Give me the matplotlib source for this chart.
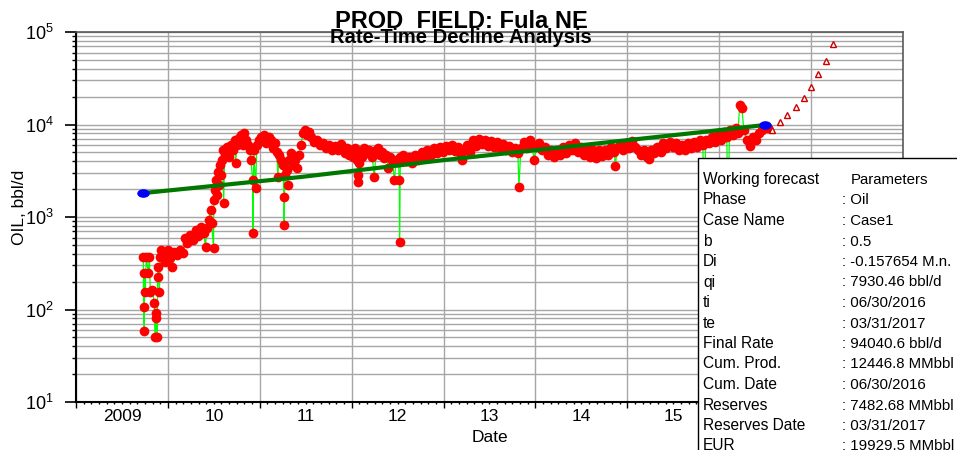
import numpy as np
import matplotlib
matplotlib.use("Agg")
import matplotlib.pyplot as plt
from matplotlib.patches import Rectangle
from matplotlib.path import Path
from matplotlib.transforms import Affine2D, blended_transform_factory
from matplotlib.ticker import FixedLocator, LogLocator, NullFormatter

plt.rcParams['font.family'] = ['Liberation Sans', 'DejaVu Sans']
plt.rcParams['mathtext.fontset'] = 'custom'
plt.rcParams['mathtext.rm'] = 'Liberation Sans'
plt.rcParams['mathtext.it'] = 'Liberation Sans:italic'
plt.rcParams['mathtext.bf'] = 'Liberation Sans:bold'

# production history: time in decimal years, oil rate in bbl/d
prod_t = [
    2009.732, 2009.735, 2009.743, 2009.745, 2009.754, 2009.765, 2009.787, 2009.798, 2009.809, 2009.831,
    2009.852, 2009.863, 2009.866, 2009.874, 2009.885, 2009.888, 2009.896, 2009.907, 2009.918, 2009.929,
    2009.951, 2009.973, 2010.005, 2010.027, 2010.049, 2010.071, 2010.104, 2010.137, 2010.169, 2010.191,
    2010.213, 2010.246, 2010.268, 2010.301, 2010.333, 2010.355, 2010.388, 2010.410, 2010.421, 2010.443,
    2010.464, 2010.475, 2010.497, 2010.500, 2010.508, 2010.519, 2010.530, 2010.541, 2010.552, 2010.563,
    2010.574, 2010.585, 2010.596, 2010.607, 2010.618, 2010.639, 2010.661, 2010.683, 2010.705, 2010.727,
    2010.738, 2010.749, 2010.770, 2010.792, 2010.814, 2010.825, 2010.847, 2010.869, 2010.891, 2010.902,
    2010.923, 2010.926, 2010.934, 2010.956, 2010.967, 2010.989, 2011.011, 2011.044, 2011.066, 2011.098,
    2011.120, 2011.142, 2011.164, 2011.186, 2011.197, 2011.208, 2011.230, 2011.251, 2011.262, 2011.265,
    2011.273, 2011.295, 2011.306, 2011.317, 2011.339, 2011.361, 2011.383, 2011.404, 2011.426, 2011.448,
    2011.470, 2011.492, 2011.514, 2011.536, 2011.557, 2011.590, 2011.623, 2011.656, 2011.689, 2011.721,
    2011.754, 2011.787, 2011.820, 2011.852, 2011.885, 2011.907, 2011.929, 2011.951, 2011.973, 2011.995,
    2012.016, 2012.038, 2012.060, 2012.071, 2012.073, 2012.075, 2012.093, 2012.115, 2012.137, 2012.158,
    2012.191, 2012.224, 2012.246, 2012.268, 2012.290, 2012.311, 2012.333, 2012.355, 2012.377, 2012.399,
    2012.421, 2012.443, 2012.464, 2012.486, 2012.508, 2012.519, 2012.521, 2012.530, 2012.563, 2012.596,
    2012.628, 2012.661, 2012.694, 2012.727, 2012.760, 2012.792, 2012.825, 2012.858, 2012.891, 2012.924,
    2012.956, 2012.989, 2013.022, 2013.055, 2013.087, 2013.120, 2013.153, 2013.186, 2013.197, 2013.219,
    2013.251, 2013.284, 2013.317, 2013.350, 2013.383, 2013.415, 2013.448, 2013.481, 2013.514, 2013.546,
    2013.579, 2013.612, 2013.645, 2013.678, 2013.710, 2013.743, 2013.776, 2013.809, 2013.820, 2013.842,
    2013.874, 2013.907, 2013.940, 2013.962, 2013.984, 2014.005, 2014.038, 2014.071, 2014.104, 2014.137,
    2014.169, 2014.202, 2014.235, 2014.268, 2014.301, 2014.333, 2014.366, 2014.399, 2014.432, 2014.464,
    2014.497, 2014.530, 2014.563, 2014.596, 2014.628, 2014.661, 2014.694, 2014.727, 2014.760, 2014.792,
    2014.825, 2014.858, 2014.869, 2014.891, 2014.924, 2014.956, 2014.989, 2015.022, 2015.055, 2015.087,
    2015.120, 2015.153, 2015.186, 2015.219, 2015.240, 2015.262, 2015.295, 2015.328, 2015.361, 2015.393,
    2015.426, 2015.459, 2015.492, 2015.525, 2015.557, 2015.590, 2015.623, 2015.656, 2015.689, 2015.721,
    2015.754, 2015.787, 2015.820, 2015.842, 2015.852, 2015.885, 2015.918, 2015.951, 2015.984, 2016.016,
    2016.049, 2016.082, 2016.093, 2016.115, 2016.148, 2016.180, 2016.202, 2016.224, 2016.246, 2016.268,
    2016.301, 2016.333, 2016.366, 2016.399, 2016.432, 2016.464, 2016.497, 2016.530,
]
prod_q = [
    369, 106, 59, 248, 154, 369, 248, 369, 154, 162,
    117, 51, 92, 81, 51, 226, 288, 154, 369, 440,
    408, 327, 440, 360, 288, 419, 388, 440, 408, 593,
    523, 639, 564, 724, 623, 780, 672, 475, 761, 928,
    1191, 862, 463, 1527, 1959, 2512, 1729, 3066, 2218, 3650,
    2845, 4133, 5301, 1417, 4681, 5712, 4453, 6004, 5301, 6799,
    3836, 6004, 7146, 7700, 6004, 8093, 6799, 6004, 5301, 4133,
    2512, 672, 5301, 2058, 6004, 6799, 7326, 7700, 6310, 7326,
    6799, 5572, 6310, 5044, 2707, 4681, 4133, 3650, 1645, 820,
    2845, 3222, 2218, 4133, 4920, 3650, 4133, 3387, 4681, 6004,
    8093, 8721, 7700, 8297, 7326, 6469, 6799, 6004, 6310, 5572,
    6004, 5301, 5856, 5301, 6155, 5572, 4920, 5572, 4681, 5301,
    4453, 5572, 4133, 2390, 2845, 3836, 5044, 4453, 5572, 4920,
    5301, 4453, 2707, 5301, 5572, 4681, 5044, 4344, 4681, 3387,
    4453, 4133, 2512, 4133, 3932, 2512, 537, 4453, 4681, 4031,
    4453, 3836, 4681, 4133, 5044, 4344, 5301, 4681, 5572, 4920,
    5712, 5044, 5856, 5301, 6004, 5171, 5712, 4681, 4133, 5301,
    6004, 5044, 6799, 5856, 6970, 6155, 6799, 5856, 6632, 5712,
    6469, 5572, 6155, 5301, 5856, 5044, 5572, 4920, 2110, 5572,
    6469, 5572, 6799, 6004, 4133, 5712, 6310, 5301, 5712, 4681,
    5301, 4453, 5301, 4681, 5712, 4920, 6004, 5301, 6310, 5044,
    5712, 4681, 5572, 4453, 5301, 4344, 5301, 4566, 5301, 4681,
    5712, 5044, 3560, 5572, 6004, 5301, 6310, 5572, 6632, 5712,
    5301, 4681, 5301, 4453, 4237, 5301, 4920, 5712, 5044, 6310,
    5572, 6469, 5712, 6310, 5301, 6004, 5301, 6310, 5572, 6469,
    5712, 6799, 6004, 1527, 6799, 6310, 7326, 6469, 7894, 6799,
    8297, 7326, 1527, 8721, 7700, 9166, 8093, 16250, 15080, 8721,
    6799, 5856, 7326, 6799, 8093, 8721, 9397, 9166,
]

# fitted decline line and its anchor points
fit_t = [2009.732, 2011.448, 2013.011, 2015.820, 2016.500]
fit_q = [1815, 2707, 4133, 8297, 9890]
anchor_t = [2009.732, 2016.500]
anchor_q = [1815, 9890]

# monthly forecast points
fcst_t = [2016.574, 2016.661, 2016.738, 2016.836, 2016.924, 2017.000, 2017.077, 2017.164, 2017.240]
fcst_q = [8721, 10640, 12670, 15460, 19340, 25430, 35150, 48570, 74160]

years = [2009, 2010, 2011, 2012, 2013, 2014, 2015]
year_labels = ['2009', '10', '11', '12', '13', '14', '15']

legend_rows = [
    ("Working forecast", "Parameters"),
    ("Phase", ": Oil"),
    ("Case Name", ": Case1"),
    ("b", ": 0.5"),
    ("Di", ": -0.157654 M.n."),
    ("qi", ": 7930.46 bbl/d"),
    ("ti", ": 06/30/2016"),
    ("te", ": 03/31/2017"),
    ("Final Rate", ": 94040.6 bbl/d"),
    ("Cum. Prod.", ": 12446.8 MMbbl"),
    ("Cum. Date", ": 06/30/2016"),
    ("Reserves", ": 7482.68 MMbbl"),
    ("Reserves Date", ": 03/31/2017"),
    ("EUR", ": 19929.5 MMbbl"),
]

W, H = 957, 450
fig = plt.figure(figsize=(W / 100, H / 100), dpi=100)
ax = fig.add_axes([76 / W, 48 / H, 827 / W, 370 / H])

ax.set_yscale('log')
ax.set_xlim(2009, 2018)
ax.set_ylim(10, 1e5)
ax.set_axisbelow(True)

# history: green connectors with red dots
ax.plot(prod_t, prod_q, color='#00ff00', lw=0.9, zorder=2)
ax.plot(prod_t, prod_q, ls='none', marker='o', ms=7, mfc='#ff0000', mec='#ff0000', mew=0, zorder=3)
ax.plot(fit_t, fit_q, color='#007800', lw=3, solid_capstyle='butt', zorder=4)
ellipse = Path.unit_circle().transformed(Affine2D().scale(1.45, 1.0))
ax.plot(anchor_t, anchor_q, ls='none', marker=ellipse, ms=9, mfc='#0000ff', mec='#0000ff', mew=0, zorder=5)
ax.plot(fcst_t, fcst_q, ls='none', marker='^', ms=5, mfc='white', mec='#cc0000', mew=1.0, zorder=5)

# axes styling
ax.yaxis.set_major_locator(FixedLocator([10, 100, 1000, 1e4, 1e5]))
ax.set_yticklabels(['$10^{1}$', '$10^{2}$', '$10^{3}$', '$10^{4}$', '$10^{5}$'])
ax.yaxis.set_minor_locator(LogLocator(base=10, subs=np.arange(2, 10)))
ax.yaxis.set_minor_formatter(NullFormatter())
ax.tick_params(axis='y', which='major', length=8, width=1.2, direction='out', pad=8, labelsize=13)
ax.tick_params(axis='y', which='minor', length=3, width=1, direction='out')

ax.set_xticks(range(2009, 2019))
ax.set_xticks(np.arange(2009, 2018.001, 1 / 12), minor=True)
ax.tick_params(axis='x', which='major', length=4, width=1, direction='out', labelbottom=False)
ax.tick_params(axis='x', which='minor', length=1.5, width=1, direction='out')

ax.yaxis.grid(True, which='both', color='#a6a6a6', lw=1.0)
ax.xaxis.grid(True, which='major', color='#a6a6a6', lw=1.0)

for side in ['left', 'bottom']:
    ax.spines[side].set_linewidth(1.5)
    ax.spines[side].set_color('black')
for side in ['top', 'right']:
    ax.spines[side].set_linewidth(1.2)
    ax.spines[side].set_color('#5a5a5a')

tr = blended_transform_factory(ax.transData, ax.transAxes)
for yr, lab in zip(years, year_labels):
    ax.text(yr + 0.5, -0.038, lab, transform=tr, ha='center', va='center', fontsize=12.5)
ax.text(0.5, -0.095, 'Date', transform=ax.transAxes, ha='center', va='center', fontsize=12.5)

fig.text(20 / W, 1 - 207 / H, 'OIL, bbl/d', rotation=90, ha='center', va='center', fontsize=12.5)

# titles
fig.text(461 / W, 1 - 28 / H, 'PROD  FIELD: Fula NE', ha='center', va='baseline',
         fontsize=17, fontweight='bold')
fig.text(461 / W, 1 - 43 / H, 'Rate-Time Decline Analysis', ha='center', va='baseline',
         fontsize=14.5, fontweight='bold')

# parameter box
box = Rectangle((698 / W, -0.05), 0.4, 1 - 158 / H + 0.05, transform=fig.transFigure,
                facecolor='white', edgecolor='black', lw=1.0, zorder=10)
fig.add_artist(box)
for i, (name, val) in enumerate(legend_rows):
    yb = 1 - (184 + 20.5 * i) / H
    fig.text(703 / W, yb, name, va='baseline', ha='left', fontsize=11.2, zorder=11)
    vx = 851 if i == 0 else 842
    fig.text(vx / W, yb, val, va='baseline', ha='left', fontsize=10.8, zorder=11)

fig.savefig('out.png', dpi=100)
